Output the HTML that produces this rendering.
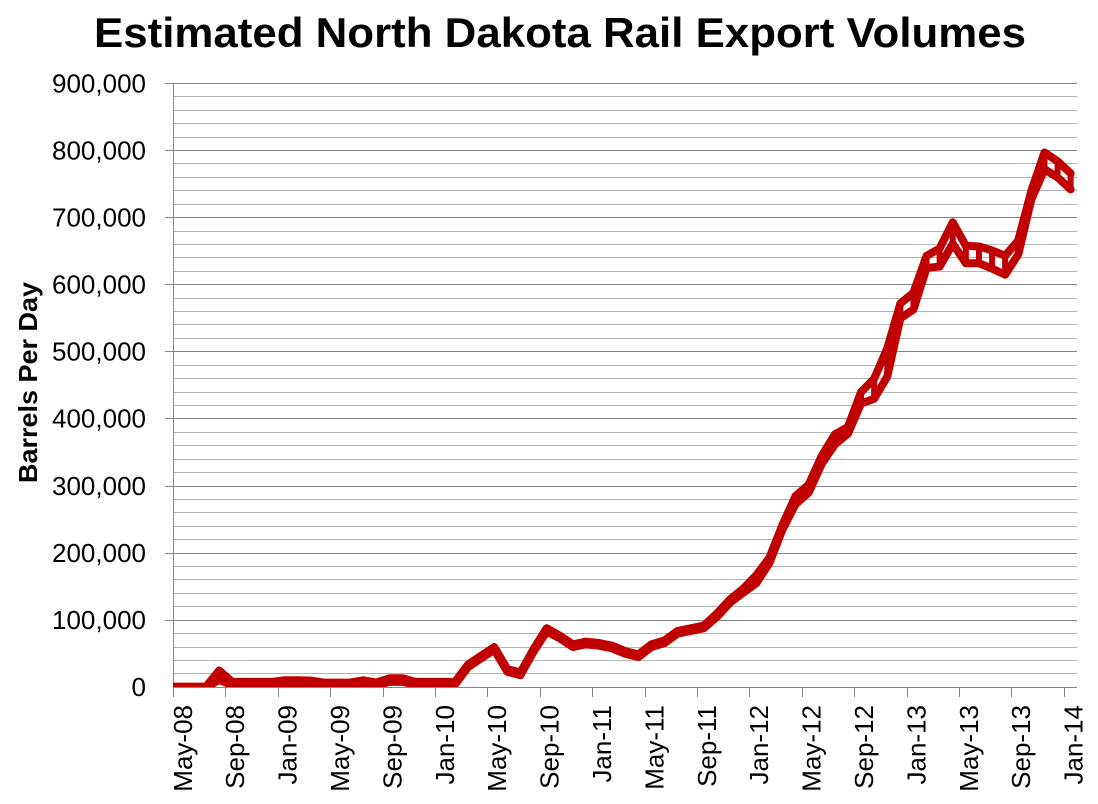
<!DOCTYPE html>
<html>
<head>
<meta charset="utf-8">
<style>
  html, body { margin: 0; padding: 0; background: #ffffff; }
  svg { display: block; }
  text { font-family: "Liberation Sans", Arial, sans-serif; fill: #000; }
</style>
</head>
<body>
<svg width="1098" height="804" viewBox="0 0 1098 804" xmlns="http://www.w3.org/2000/svg">
  <rect x="0" y="0" width="1098" height="804" fill="#ffffff"/>

  <!-- Title -->
  <text x="560" y="47" font-size="42" font-weight="bold" text-anchor="middle" textLength="932" lengthAdjust="spacingAndGlyphs">Estimated North Dakota Rail Export Volumes</text>

  <!-- Minor gridlines -->
  <g stroke="#b5b5b5" stroke-width="1" shape-rendering="crispEdges">
    <line x1="173" x2="1077" y1="673.5" y2="673.5"/>
    <line x1="173" x2="1077" y1="660.5" y2="660.5"/>
    <line x1="173" x2="1077" y1="647.5" y2="647.5"/>
    <line x1="173" x2="1077" y1="633.5" y2="633.5"/>
    <line x1="173" x2="1077" y1="606.5" y2="606.5"/>
    <line x1="173" x2="1077" y1="593.5" y2="593.5"/>
    <line x1="173" x2="1077" y1="579.5" y2="579.5"/>
    <line x1="173" x2="1077" y1="566.5" y2="566.5"/>
    <line x1="173" x2="1077" y1="539.5" y2="539.5"/>
    <line x1="173" x2="1077" y1="526.5" y2="526.5"/>
    <line x1="173" x2="1077" y1="512.5" y2="512.5"/>
    <line x1="173" x2="1077" y1="499.5" y2="499.5"/>
    <line x1="173" x2="1077" y1="472.5" y2="472.5"/>
    <line x1="173" x2="1077" y1="459.5" y2="459.5"/>
    <line x1="173" x2="1077" y1="445.5" y2="445.5"/>
    <line x1="173" x2="1077" y1="432.5" y2="432.5"/>
    <line x1="173" x2="1077" y1="405.5" y2="405.5"/>
    <line x1="173" x2="1077" y1="392.5" y2="392.5"/>
    <line x1="173" x2="1077" y1="378.5" y2="378.5"/>
    <line x1="173" x2="1077" y1="365.5" y2="365.5"/>
    <line x1="173" x2="1077" y1="338.5" y2="338.5"/>
    <line x1="173" x2="1077" y1="324.5" y2="324.5"/>
    <line x1="173" x2="1077" y1="311.5" y2="311.5"/>
    <line x1="173" x2="1077" y1="298.5" y2="298.5"/>
    <line x1="173" x2="1077" y1="271.5" y2="271.5"/>
    <line x1="173" x2="1077" y1="257.5" y2="257.5"/>
    <line x1="173" x2="1077" y1="244.5" y2="244.5"/>
    <line x1="173" x2="1077" y1="231.5" y2="231.5"/>
    <line x1="173" x2="1077" y1="204.5" y2="204.5"/>
    <line x1="173" x2="1077" y1="190.5" y2="190.5"/>
    <line x1="173" x2="1077" y1="177.5" y2="177.5"/>
    <line x1="173" x2="1077" y1="163.5" y2="163.5"/>
    <line x1="173" x2="1077" y1="137.5" y2="137.5"/>
    <line x1="173" x2="1077" y1="123.5" y2="123.5"/>
    <line x1="173" x2="1077" y1="110.5" y2="110.5"/>
    <line x1="173" x2="1077" y1="96.5" y2="96.5"/>
  </g>

  <!-- Major gridlines + y ticks -->
  <g stroke="#868686" stroke-width="1" shape-rendering="crispEdges">
    <line x1="165" x2="1077" y1="620.5" y2="620.5"/>
    <line x1="165" x2="1077" y1="553.5" y2="553.5"/>
    <line x1="165" x2="1077" y1="486.5" y2="486.5"/>
    <line x1="165" x2="1077" y1="418.5" y2="418.5"/>
    <line x1="165" x2="1077" y1="351.5" y2="351.5"/>
    <line x1="165" x2="1077" y1="284.5" y2="284.5"/>
    <line x1="165" x2="1077" y1="217.5" y2="217.5"/>
    <line x1="165" x2="1077" y1="150.5" y2="150.5"/>
    <line x1="165" x2="1077" y1="83.5" y2="83.5"/>
    <line x1="173.5" x2="173.5" y1="83" y2="688"/>
  </g>

  <!-- Series -->
  <defs>
    <clipPath id="plotclip">
      <rect x="173" y="80" width="905" height="607.5"/>
    </clipPath>
  </defs>
  <g clip-path="url(#plotclip)">
    <g transform="translate(179.85,687.3) scale(13.1,-0.671)" fill="none" stroke="#c00000" stroke-linejoin="round" stroke-linecap="round">
      <polyline vector-effect="non-scaling-stroke" stroke-width="8" points="-0.6,1 0,1 1,1 2,1 3,25 4,8 5,8 6,8 7,8 8,10.5 9,10.5 10,10 11,7 12,7 13,7 14,10.5 15,7 16,13.5 17,13.5 18,8 19,8 20,8 21,8 22,34 23,47 24,60 25,27 26,22 27,57 28,88 29,77 30,64 31,68 32,66 33,62 34,54 35,49 36,64 37,70 38,84 39,88 40,92 41,110 42,131 43,147 44,167 45,193 46,242 47,285 48,302 49,345 50,377 51,388 52,440 53,460 54,505 55,572 56,588 57,643 58,654 59,693 60,658 61,657 62,651 63,643 64,666 65,740 66,797 67,784 68,766"/>
      <polyline vector-effect="non-scaling-stroke" stroke-width="8" points="-0.6,0 0,0 1,0 2,0 3,11 4,3 5,3 6,3 7,3 8,5 9,5 10,5 11,3 12,3 13,3 14,6 15,3 16,8 17,8 18,4 19,4 20,4 21,4 22,30 23,43 24,56 25,23 26,18 27,53 28,83 29,73 30,60 31,64 32,62 33,58 34,50 35,45 36,60 37,66 38,80 39,84 40,88 41,105 42,126 43,141 44,155 45,185 46,235 47,273 48,290 49,333 50,362 51,378 52,423 53,430 54,463 55,550 56,563 57,625 58,627 59,661 60,632 61,632 62,624 63,615 64,645 65,727 66,772 67,760 68,742"/>
      <path vector-effect="non-scaling-stroke" stroke-width="6" stroke-linecap="butt" d="M3,11V25 M8,5V10.5 M9,5V10.5 M16,8V13.5 M17,8V13.5 M44,155V167 M45,185V193 M46,235V242 M47,273V285 M48,290V302 M49,333V345 M50,362V377 M51,378V388 M52,423V440 M53,430V460 M54,463V505 M55,550V572 M56,563V588 M57,625V643 M58,627V654 M59,661V693 M60,632V658 M61,632V657 M62,624V651 M63,615V643 M64,645V666 M65,727V740 M66,772V797 M67,760V784 M68,742V766"/>
    </g>
  </g>

  <!-- X axis line and ticks -->
  <g stroke="#868686" stroke-width="1" shape-rendering="crispEdges">
    <line x1="173" x2="1077" y1="687.5" y2="687.5"/>
    <line x1="173.5" x2="173.5" y1="687" y2="697"/>
    <line x1="225.5" x2="225.5" y1="687" y2="697"/>
    <line x1="278.5" x2="278.5" y1="687" y2="697"/>
    <line x1="330.5" x2="330.5" y1="687" y2="697"/>
    <line x1="383.5" x2="383.5" y1="687" y2="697"/>
    <line x1="435.5" x2="435.5" y1="687" y2="697"/>
    <line x1="487.5" x2="487.5" y1="687" y2="697"/>
    <line x1="540.5" x2="540.5" y1="687" y2="697"/>
    <line x1="592.5" x2="592.5" y1="687" y2="697"/>
    <line x1="645.5" x2="645.5" y1="687" y2="697"/>
    <line x1="697.5" x2="697.5" y1="687" y2="697"/>
    <line x1="749.5" x2="749.5" y1="687" y2="697"/>
    <line x1="802.5" x2="802.5" y1="687" y2="697"/>
    <line x1="854.5" x2="854.5" y1="687" y2="697"/>
    <line x1="907.5" x2="907.5" y1="687" y2="697"/>
    <line x1="959.5" x2="959.5" y1="687" y2="697"/>
    <line x1="1011.5" x2="1011.5" y1="687" y2="697"/>
    <line x1="1064.5" x2="1064.5" y1="687" y2="697"/>
  </g>

  <!-- Y tick labels -->
  <g font-size="26" text-anchor="end">
    <text x="146" y="92.5">900,000</text>
    <text x="146" y="159.5">800,000</text>
    <text x="146" y="226.5">700,000</text>
    <text x="146" y="293.5">600,000</text>
    <text x="146" y="360.5">500,000</text>
    <text x="146" y="427.5">400,000</text>
    <text x="146" y="495">300,000</text>
    <text x="146" y="562">200,000</text>
    <text x="146" y="629">100,000</text>
    <text x="146" y="696">0</text>
  </g>

  <!-- Y axis title -->
  <text transform="translate(37,382.5) rotate(-90)" font-size="26" font-weight="bold" text-anchor="middle" textLength="201" lengthAdjust="spacingAndGlyphs">Barrels Per Day</text>

  <!-- X tick labels -->
  <g font-size="26" text-anchor="end">
    <text transform="translate(191.8,705) rotate(-90)">May-08</text>
    <text transform="translate(244.2,705) rotate(-90)">Sep-08</text>
    <text transform="translate(296.6,705) rotate(-90)">Jan-09</text>
    <text transform="translate(349,705) rotate(-90)">May-09</text>
    <text transform="translate(401.4,705) rotate(-90)">Sep-09</text>
    <text transform="translate(453.8,705) rotate(-90)">Jan-10</text>
    <text transform="translate(506.2,705) rotate(-90)">May-10</text>
    <text transform="translate(558.6,705) rotate(-90)">Sep-10</text>
    <text transform="translate(611,705) rotate(-90)">Jan-11</text>
    <text transform="translate(663.4,705) rotate(-90)">May-11</text>
    <text transform="translate(715.8,705) rotate(-90)">Sep-11</text>
    <text transform="translate(768.2,705) rotate(-90)">Jan-12</text>
    <text transform="translate(820.6,705) rotate(-90)">May-12</text>
    <text transform="translate(873,705) rotate(-90)">Sep-12</text>
    <text transform="translate(925.4,705) rotate(-90)">Jan-13</text>
    <text transform="translate(977.8,705) rotate(-90)">May-13</text>
    <text transform="translate(1030.2,705) rotate(-90)">Sep-13</text>
    <text transform="translate(1082.6,705) rotate(-90)">Jan-14</text>
  </g>
</svg>
</body>
</html>
